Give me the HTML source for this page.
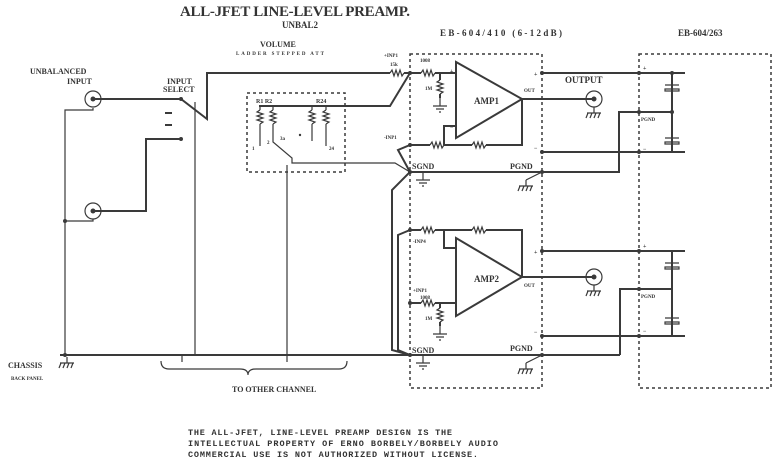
<!DOCTYPE html>
<html><head><style>
html,body{margin:0;padding:0;background:#fff}
svg{display:block}
text{font-family:"Liberation Serif",serif;font-weight:bold;fill:#333}
.w{stroke:#3a3a3a;stroke-width:2;fill:none}
.t{stroke:#3a3a3a;stroke-width:1.2;fill:none}
.d{stroke:#3a3a3a;stroke-width:1.5;fill:none;stroke-dasharray:3,3}
.dot{fill:#3a3a3a}
</style></head><body>
<svg width="783" height="464" viewBox="0 0 783 464" xmlns="http://www.w3.org/2000/svg">
<defs>
<g id="res"><path d="M0,0 l2,-3 l2,6 l2,-6 l2,6 l2,-6 l2,6 l2,-3" class="t"/></g>
<g id="vres"><path d="M0,0 l-3,2 l6,2 l-6,2 l6,2 l-6,2 l6,2 l-3,2" class="t"/></g>
<g id="gnd"><path d="M0,0 v8 M-7,8 h14 M-4,11 h8 M-1,14 h2" class="t"/></g>
<g id="cg"><path d="M0,0 v6 M-7,6 h14 M-6,6 l-2,5 M-2,6 l-2,5 M2,6 l-2,5 M6,6 l-2,5" class="t" stroke-width="1.8"/></g>
<g id="jack"><circle r="8" class="t"/><circle r="2.5" class="dot"/></g>
<g id="cap"><path d="M-7,0 h14 M-7,4 h14 v2 h-14z" class="t" stroke-width="1.8"/></g>
</defs>

<!-- Titles -->
<text x="180" y="16" font-size="15" textLength="230">ALL-JFET LINE-LEVEL PREAMP.</text>
<text x="282" y="28" font-size="9">UNBAL2</text>
<text x="260" y="47" font-size="8">VOLUME</text>
<text x="236" y="55" font-size="5" textLength="88">LADDER STEPPED ATT</text>
<text x="30" y="74" font-size="8">UNBALANCED</text>
<text x="67" y="84" font-size="8">INPUT</text>
<text x="167" y="84" font-size="8">INPUT</text>
<text x="163" y="92" font-size="8">SELECT</text>
<text x="440" y="36" font-size="9" textLength="122">EB-604/410 (6-12dB)</text>
<text x="678" y="36" font-size="9">EB-604/263</text>

<!-- boxes -->
<rect x="247" y="93" width="98" height="79" class="d"/>
<rect x="410" y="54" width="132" height="334" class="d"/>
<rect x="639" y="54" width="132" height="334" class="d"/>

<!-- left input -->
<use href="#jack" x="93" y="99"/>
<use href="#jack" x="93" y="211"/>
<path class="w" d="M93,99 H181 L207,119 V73 H390"/>
<use href="#res" x="390" y="73"/><path class="w" d="M404,73 H410"/>
<path class="t" d="M93,108 V110 H65 V355 M93,219 V221 H65"/>
<path class="w" d="M93,211 H146 V139 H181"/>
<circle cx="181" cy="139" r="2" class="dot"/><circle cx="181" cy="99" r="2" class="dot"/>
<path class="w" d="M165,113 h7 M165,125 h7"/>
<path class="t" d="M195,102 V355 M182,355 V362 M287,165 V362"/>
<text x="384" y="57" font-size="5">+INP1</text>
<text x="390" y="66" font-size="5">15k</text>
<!-- volume -->
<path class="w" d="M259,106 H390 L410,73"/>
<text x="256" y="103" font-size="6">R1 R2</text><text x="316" y="103" font-size="6">R24</text>
<use href="#vres" x="260" y="110"/><use href="#vres" x="273" y="110"/>
<use href="#vres" x="312" y="110"/><use href="#vres" x="326" y="110"/>
<path class="t" d="M260,106 v4 M260,124 v22 M273,106 v4 M273,124 v18 L292,158 V163 H395 L410,172 M312,106 v4 M312,124 v17 M326,106 v4 M326,124 v22"/>
<text x="252" y="150" font-size="5">1</text><text x="267" y="144" font-size="5">2</text><text x="280" y="140" font-size="5">3a</text><text x="329" y="150" font-size="5">24</text>
<circle cx="300" cy="135" r="1.2" class="dot"/>

<!-- chassis -->
<path class="w" d="M60,355 H620 M620,355 V289 H672"/>
<use href="#cg" x="67" y="357"/>
<text x="8" y="368" font-size="8">CHASSIS</text>
<text x="11" y="380" font-size="5">BACK PANEL</text>
<path class="t" d="M161,361 q0,8 8,8 H240 q8,0 8,6 q0,-6 8,-6 H339 q8,0 8,-8"/>
<text x="232" y="392" font-size="8">TO OTHER CHANNEL</text>

<!-- AMP1 -->
<path class="w" d="M456,62 V138 L522,99 Z"/>
<text x="474" y="104" font-size="9">AMP1</text>
<text x="450" y="73" font-size="6">+</text><text x="450" y="129" font-size="6">−</text>
<path class="w" d="M410,73 H421"/><use href="#res" x="421" y="73"/>
<path class="w" d="M435,73 H456 M440,73 V80"/><use href="#vres" x="440" y="80"/>
<path class="w" d="M440,94 V98"/><use href="#gnd" x="440" y="98"/>
<text x="420" y="62" font-size="5">1008</text><text x="425" y="90" font-size="5">1M</text>
<path class="w" d="M522,99 H594 M522,99 V145 H486"/><use href="#res" x="472" y="145"/>
<path class="w" d="M472,145 H444"/><use href="#res" x="430" y="145"/>
<path class="w" d="M430,145 H410 L398,150 L410,172 L392,190 V350 L410,355 M444,145 V126 H456"/>
<text x="384" y="139" font-size="5">-INP1</text>
<text x="524" y="92" font-size="5">OUT</text>
<text x="565" y="83" font-size="9">OUTPUT</text>
<use href="#jack" x="594" y="99"/><use href="#cg" x="594" y="107"/>
<!-- rails1 -->
<path class="w" d="M542,73 H685 M542,152 H685 M410,172 H619 V112 H672 M672,73 V152"/>
<text x="534" y="76" font-size="6">+</text><text x="534" y="150" font-size="6">−</text>
<text x="643" y="70" font-size="6">+</text><text x="643" y="151" font-size="6">−</text>
<text x="641" y="121" font-size="5">PGND</text>
<use href="#cap" x="672" y="85"/><use href="#cap" x="672" y="138"/>
<text x="412" y="169" font-size="8">SGND</text><text x="510" y="169" font-size="8">PGND</text>
<use href="#gnd" x="423" y="172"/>
<path class="t" d="M542,172 L526,180"/><use href="#cg" x="526" y="180"/>

<!-- AMP2 -->
<path class="w" d="M456,238 V316 L522,277 Z"/>
<text x="474" y="282" font-size="9">AMP2</text>
<path class="w" d="M410,230 L398,235 V350 L410,355 M410,230 H421"/><use href="#res" x="421" y="230"/>
<path class="w" d="M435,230 H472"/><use href="#res" x="472" y="230"/>
<path class="w" d="M486,230 H522 V277 H594 M444,230 V248 H456"/>
<text x="413" y="243" font-size="5">-INP4</text>
<path class="w" d="M410,303 H421"/><use href="#res" x="421" y="303"/>
<path class="w" d="M435,303 H456 M440,303 V308"/><use href="#vres" x="440" y="308"/>
<path class="w" d="M440,322 V326"/><use href="#gnd" x="440" y="326"/>
<text x="413" y="292" font-size="5">+INP1</text><text x="420" y="299" font-size="5">1008</text><text x="425" y="320" font-size="5">1M</text>
<text x="524" y="287" font-size="5">OUT</text>
<use href="#jack" x="594" y="277"/><use href="#cg" x="594" y="285"/>
<path class="w" d="M542,251 H685 M542,336 H685 M672,251 V336"/>
<text x="534" y="254" font-size="6">+</text><text x="534" y="334" font-size="6">−</text>
<text x="643" y="248" font-size="6">+</text><text x="643" y="333" font-size="6">−</text>
<text x="641" y="298" font-size="5">PGND</text>
<use href="#cap" x="672" y="263"/><use href="#cap" x="672" y="318"/>
<text x="412" y="353" font-size="8">SGND</text><text x="510" y="351" font-size="8">PGND</text>
<use href="#gnd" x="423" y="355"/>
<path class="t" d="M542,355 L526,363"/><use href="#cg" x="526" y="363"/>
<g class="dot">
<circle cx="410" cy="73" r="2"/><circle cx="542" cy="73" r="2"/><circle cx="639" cy="73" r="2"/><circle cx="672" cy="73" r="2"/>
<circle cx="542" cy="152" r="2"/><circle cx="639" cy="152" r="2"/><circle cx="639" cy="112" r="2"/><circle cx="672" cy="112" r="2"/>
<circle cx="410" cy="145" r="2"/><circle cx="410" cy="172" r="2"/><circle cx="542" cy="172" r="2"/>
<circle cx="410" cy="230" r="2"/><circle cx="410" cy="303" r="2"/><circle cx="410" cy="355" r="2"/><circle cx="542" cy="355" r="2"/>
<circle cx="542" cy="251" r="2"/><circle cx="639" cy="251" r="2"/><circle cx="542" cy="336" r="2"/><circle cx="639" cy="336" r="2"/><circle cx="639" cy="289" r="2"/>
<circle cx="65" cy="355" r="2"/><circle cx="65" cy="221" r="2"/>
</g>

<g font-size="8.5">
<text x="188" y="435" textLength="264" style="font-family:'Liberation Mono',monospace">THE ALL-JFET, LINE-LEVEL PREAMP DESIGN IS THE</text>
<text x="188" y="446" textLength="310" style="font-family:'Liberation Mono',monospace">INTELLECTUAL PROPERTY OF ERNO BORBELY/BORBELY AUDIO</text>
<text x="188" y="457" textLength="290" style="font-family:'Liberation Mono',monospace">COMMERCIAL USE IS NOT AUTHORIZED WITHOUT LICENSE.</text>
</g>
</svg>
</body></html>
